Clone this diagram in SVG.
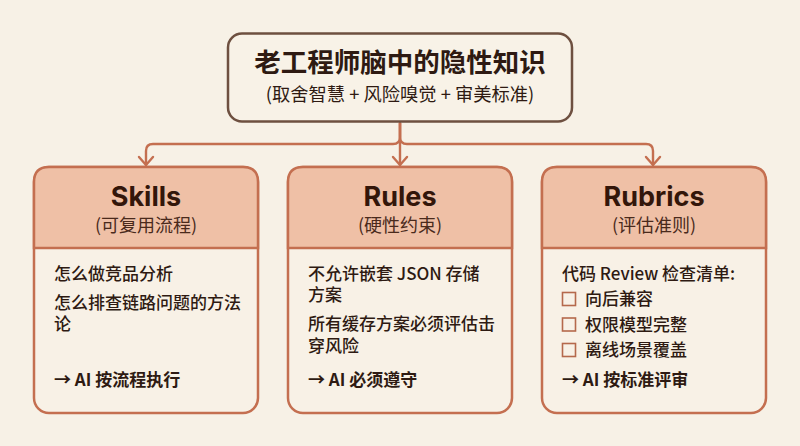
<svg xmlns="http://www.w3.org/2000/svg" width="800" height="446" viewBox="0 0 800 446">
<style>
text{font-family:"Noto Sans CJK SC","Noto Sans",sans-serif;fill:#2e1a12}
.card{fill:#f8f1e6;stroke:#c46f50;stroke-width:2.5}
.head{fill:#efc0a6;stroke:#c46f50;stroke-width:2.5}
.name{font-size:27px;font-weight:700;text-anchor:middle;fill:#33160a;font-family:"Inter","Noto Sans CJK SC",sans-serif}
.sub{font-size:18px;text-anchor:middle;fill:#4a2a1c}
.b{font-size:17px;font-weight:500}
.ai{font-size:17px;font-weight:700}
.cb{fill:none;stroke:#b5694c;stroke-width:1.6}
.c{fill:none;stroke:#c46f50;stroke-width:2.4;stroke-linecap:round;stroke-linejoin:round}
</style>
<rect width="800" height="446" fill="#f7f1e6"/>
<g id="connectors">
<path class="c" d="M400 123V137Q400 144 393 144H153Q146 144 146 151V165"/>
<path class="c" d="M400 123V137Q400 144 407 144H646Q653 144 653 151V165"/>
<path class="c" d="M400 123V165"/>
<path class="c" d="M393 157L400 165L407 157"/>
<path class="c" d="M139 157L146 165L153 157"/>
<path class="c" d="M646 157L653 165L660 157"/>
</g>
<g id="root">
<rect x="228" y="33.500" width="344" height="88" rx="14" fill="#f8f2e7" stroke="#6e5040" stroke-width="2.500"/>
<text x="400" y="72" text-anchor="middle" font-size="26.500" font-weight="700">老工程师脑中的隐性知识</text>
<text x="400" y="101" text-anchor="middle" font-size="18.300" fill="#3a251a">(取舍智慧 + 风险嗅觉 + 审美标准)</text>
</g>
<g id="skills">
<rect class="card" x="34" y="167" width="224" height="246" rx="15"/>
<path class="head" d="M34 248V182Q34 167 49 167H243Q258 167 258 182V248Z"/>
<text class="name" x="146" y="206">Skills</text>
<text class="sub" x="146" y="232">(可复用流程)</text>
<text class="b" x="54" y="280">怎么做竞品分析</text>
<text class="b" x="54" y="309">怎么排查链路问题的方法<tspan x="54" dy="21">论</tspan></text>
<text class="ai" x="54" y="386">→ AI 按流程执行</text>
</g>
<g id="rules">
<rect class="card" x="288" y="167" width="224" height="246" rx="15"/>
<path class="head" d="M288 248V182Q288 167 303 167H497Q512 167 512 182V248Z"/>
<text class="name" x="400" y="206">Rules</text>
<text class="sub" x="400" y="232">(硬性约束)</text>
<text class="b" x="308" y="280">不允许嵌套 JSON 存储<tspan x="308" dy="21">方案</tspan></text>
<text class="b" x="308" y="330">所有缓存方案必须评估击<tspan x="308" dy="22">穿风险</tspan></text>
<text class="ai" x="308" y="386">→ AI 必须遵守</text>
</g>
<g id="rubrics">
<rect class="card" x="542" y="167" width="224" height="246" rx="15"/>
<path class="head" d="M542 248V182Q542 167 557 167H751Q766 167 766 182V248Z"/>
<text class="name" x="654" y="206">Rubrics</text>
<text class="sub" x="654" y="232">(评估准则)</text>
<text class="b" x="562" y="280">代码 Review 检查清单:</text>
<rect class="cb" x="562.500" y="292.500" width="13" height="13"/>
<text class="b" x="585" y="305">向后兼容</text>
<rect class="cb" x="562.500" y="318" width="13" height="13"/>
<text class="b" x="585" y="331">权限模型完整</text>
<rect class="cb" x="562.500" y="343.500" width="13" height="13"/>
<text class="b" x="585" y="356">离线场景覆盖</text>
<text class="ai" x="562" y="386">→ AI 按标准评审</text>
</g>
</svg>
